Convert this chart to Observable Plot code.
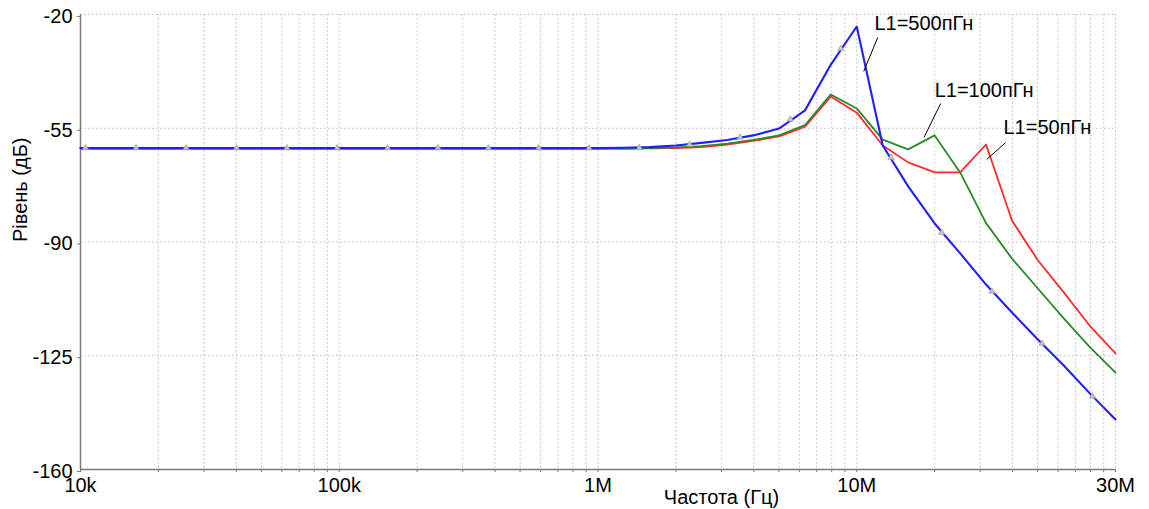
<!DOCTYPE html>
<html>
<head>
<meta charset="utf-8">
<script src="https://cdn.jsdelivr.net/npm/d3@7"></script>
<script src="https://cdn.jsdelivr.net/npm/@observablehq/plot@0.6"></script>
<style>
  html, body { margin: 0; padding: 0; background: #fff; }
  #chart { width: 1149px; height: 509px; }
</style>
</head>
<body>
<div id="chart"></div>
<script>
// ---- data ----
const freqs = [1e4, 1e5, 1e6, 1.26e6, 1.58e6, 2e6, 2.51e6, 3.16e6, 3.98e6, 5.01e6, 6.31e6, 7.94e6,
  1e7, 1.26e7, 1.58e7, 2e7, 2.51e7, 3.16e7, 3.98e7, 5.01e7, 6.31e7, 7.94e7, 1e8];
const blueDb  = [-61.1, -61.1, -61.1, -61.0, -60.8, -60.3, -59.5, -58.6, -57.2, -55.1, -49.5, -35.4,
  -23.7, -60.3, -72.9, -84.3, -93.5, -103.1, -111.7, -120.0, -128.0, -136.5, -144.6];
const greenDb = [-61.1, -61.1, -61.1, -61.1, -61.1, -60.9, -60.5, -59.7, -58.6, -57.2, -54.0, -44.6,
  -48.9, -58.5, -61.5, -57.2, -68.6, -84.2, -95.1, -104.3, -113.5, -122.3, -130.2];
const redDb   = [-61.3, -61.3, -61.3, -61.3, -61.2, -61.1, -60.8, -60.0, -58.9, -57.5, -54.5, -45.2,
  -50.2, -60.3, -65.5, -68.6, -68.6, -60.0, -83.4, -95.6, -105.5, -115.7, -124.3];
const seriesNames = ["L1=50пГн", "L1=100пГн", "L1=500пГн"];
const seriesColors = ["#ff2b2b", "#2a8a2a", "#1f1fff"];

// grey triangle markers on the blue curve
const markerFreqs = [1.045e4, 1.64e4, 2.56e4, 4.01e4, 6.28e4, 9.82e4, 1.538e5, 2.407e5, 3.769e5, 5.898e5,
  9.23e5, 1.445e6, 2.262e6, 3.54e6, 5.54e6, 8.68e6, 1.358e7, 2.13e7, 3.33e7, 5.21e7, 8.15e7];
const markerDb = [-61.1, -61.1, -61.1, -61.1, -61.1, -61.1, -61.1, -61.1, -61.1, -61.1,
  -61.1, -61.0, -60.0, -57.8, -52.3, -30.5, -64.0, -87.1, -105.2, -121.2, -137.5];

// annotations
const annotText = ["L1=500пГн", "L1=100пГн", "L1=50пГн"];
const annotF  = [1.17e7, 2.0e7, 3.69e7];
const annotDb = [-22.9, -43.4, -54.9];
const leaderF1 = [1.205e7, 2.11e7, 3.76e7];
const leaderDb1 = [-27.1, -47.4, -59.4];
const leaderF2 = [1.064e7, 1.82e7, 3.18e7];
const leaderDb2 = [-37.5, -57.8, -64.6];

// axes
const xTicks = [1e4, 1e5, 1e6, 1e7, 1e8];
const xTickLabels = ["10k", "100k", "1M", "10M", "30M"];
const yTicks = [-20, -55, -90, -125, -160];
const yTickLabels = ["-20", "-55", "-90", "-125", "-160"];
const xLabel = "Частота (Гц)";
const yLabel = "Рівень (дБ)";

// ---- build tables ----
const dbArrays = [redDb, greenDb, blueDb];
const rows = [];
dbArrays.forEach((arr, s) => arr.forEach((v, i) => rows.push({f: freqs[i], db: v, s})));
const markers = markerFreqs.map((f, i) => ({f, db: markerDb[i]}));
const annots = annotText.map((t, i) => ({t, f: annotF[i], db: annotDb[i],
  f1: leaderF1[i], d1: leaderDb1[i], f2: leaderF2[i], d2: leaderDb2[i]}));

// vertical grid: 1..9 per decade
const gridF = [];
for (let e = 4; e < 8; e++) for (let m = 1; m <= 9; m++) gridF.push(m * Math.pow(10, e));
gridF.push(1e8);

const font = "'Liberation Sans', Arial, Helvetica, sans-serif";
const fs = 20;
const gridStyle = {stroke: "#bdbdbd", strokeWidth: 1, strokeDasharray: "1.5,2.5"};

const chart = Plot.plot({
  width: 1149,
  height: 509,
  marginLeft: 80,
  marginRight: 34,
  marginTop: 14,
  marginBottom: 40,
  style: {fontFamily: font, fontSize: fs + "px", background: "#fff", color: "#000"},
  x: {type: "log", domain: [1e4, 1e8], axis: null},
  y: {domain: [-160, -20], axis: null},
  marks: [
    Plot.ruleX(gridF, gridStyle),
    Plot.ruleY(yTicks.filter(d => d !== -160), gridStyle),
    Plot.axisX({ticks: gridF, tickSize: 3, tickFormat: () => "", stroke: "#7a7a7a"}),
    Plot.axisX({ticks: xTicks, tickSize: 0, tickPadding: 8,
      tickFormat: (d) => xTickLabels[xTicks.indexOf(d)], fontSize: fs, fill: "#000"}),
    Plot.axisY({ticks: yTicks, tickSize: 3, tickPadding: 5,
      tickFormat: (d) => yTickLabels[yTicks.indexOf(d)], fontSize: fs, fill: "#000", stroke: "#7a7a7a", dy: 2}),
    Plot.ruleY([-160], {stroke: "#7a7a7a", strokeWidth: 1.5}),
    Plot.ruleX([1e4], {stroke: "#7a7a7a", strokeWidth: 1.5}),
    ...[0, 1, 2].map(s => Plot.line(rows.filter(r => r.s === s), {
      x: "f", y: "db", stroke: seriesColors[s], strokeWidth: s === 2 ? 2.1 : 1.8, curve: "linear"
    })),
    Plot.dot(markers, {x: "f", y: "db", symbol: "triangle", r: 2.3, stroke: "#999", fill: "#c8c8c8", strokeWidth: 0.7}),
    Plot.link(annots, {x1: "f1", y1: "d1", x2: "f2", y2: "d2", stroke: "#000", strokeWidth: 1}),
    Plot.text(annots, {x: "f", y: "db", text: "t", textAnchor: "start", lineAnchor: "middle", fontSize: fs, fill: "#000"}),
    Plot.text([xLabel], {x: 3e6, frameAnchor: "bottom", dy: 28, lineAnchor: "middle", fontSize: fs, fill: "#000"}),
    Plot.text([yLabel], {frameAnchor: "left", dx: -60, rotate: -90, lineAnchor: "middle", fontSize: fs, fill: "#000"})
  ]
});
document.getElementById("chart").appendChild(chart);
</script>
</body>
</html>
